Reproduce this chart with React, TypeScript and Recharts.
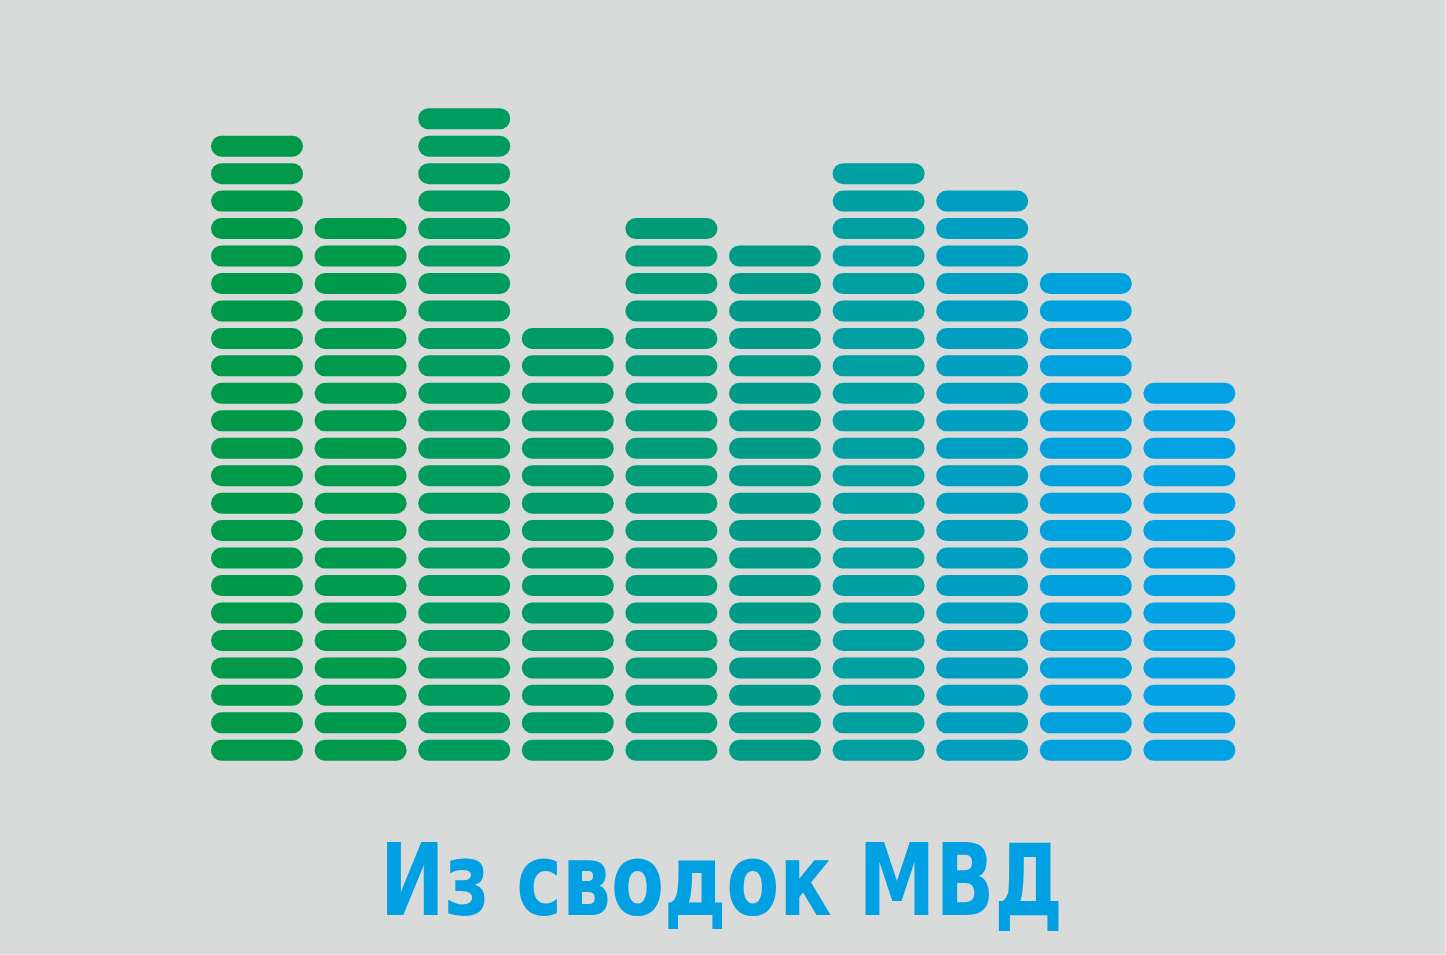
import React from 'react';
import { BarChart, Bar, XAxis, YAxis, Cell } from 'recharts';

const columns = ['1', '2', '3', '4', '5', '6', '7', '8', '9', '10'];
const segmentCounts = [23, 20, 24, 16, 20, 19, 22, 21, 18, 14];
const columnColors = [
  '#00994a', '#009a4c', '#009b5e', '#009a68', '#009c78',
  '#009b88', '#00a0a2', '#009fc2', '#00a1dc', '#03a2e4',
];
const title = 'Из сводок МВД';

const data = columns.map((name, i) => ({ name, count: segmentCounts[i] }));

// draws a column as a pile of rounded "pills", one per unit of value
const SegmentedBar = (props: any) => {
  const { x, y, width, height, fill, payload } = props;
  const n = payload.count;
  if (!n || height <= 0) return null;
  const pitch = height / n;
  const gap = pitch * 0.235;
  const h = pitch - gap;
  const bottom = y + height;
  const pills = [];
  for (let i = 0; i < n; i++) {
    pills.push(
      <rect
        key={i}
        x={x}
        y={bottom - (i + 1) * pitch + gap / 2}
        width={width}
        height={h}
        rx={h / 2}
        ry={h / 2}
        fill={fill}
      />
    );
  }
  return <g>{pills}</g>;
};

export default function App() {
  return (
    <div
      style={{
        position: 'absolute',
        left: 0,
        top: 0,
        width: 1446,
        height: 955,
        background: '#d9dada',
        boxSizing: 'border-box',
        borderRight: '1px solid #ececec',
        borderBottom: '1px solid #ececec',
        overflow: 'hidden',
      }}
    >
      <BarChart
        width={1446}
        height={955}
        data={data}
        margin={{ top: 105, right: 205, bottom: 191, left: 205 }}
        barSize={92}
      >
        <XAxis dataKey="name" hide />
        <YAxis hide domain={[0, 24]} />
        <Bar dataKey="count" isAnimationActive={false} shape={<SegmentedBar />}>
          {data.map((d, i) => (
            <Cell key={d.name} fill={columnColors[i]} />
          ))}
        </Bar>
      </BarChart>
      <svg
        width={1446}
        height={955}
        style={{ position: 'absolute', left: 0, top: 0, pointerEvents: 'none' }}
      >
        <text
          x={721.5}
          y={915}
          textAnchor="middle"
          textLength={683}
          lengthAdjust="spacingAndGlyphs"
          fill="#00a0e3"
          fontFamily="'Liberation Sans Narrow', 'DejaVu Sans Condensed', 'Roboto', sans-serif"
          fontWeight={700}
          fontSize={100}
        >
          {title}
        </text>
      </svg>
    </div>
  );
}
